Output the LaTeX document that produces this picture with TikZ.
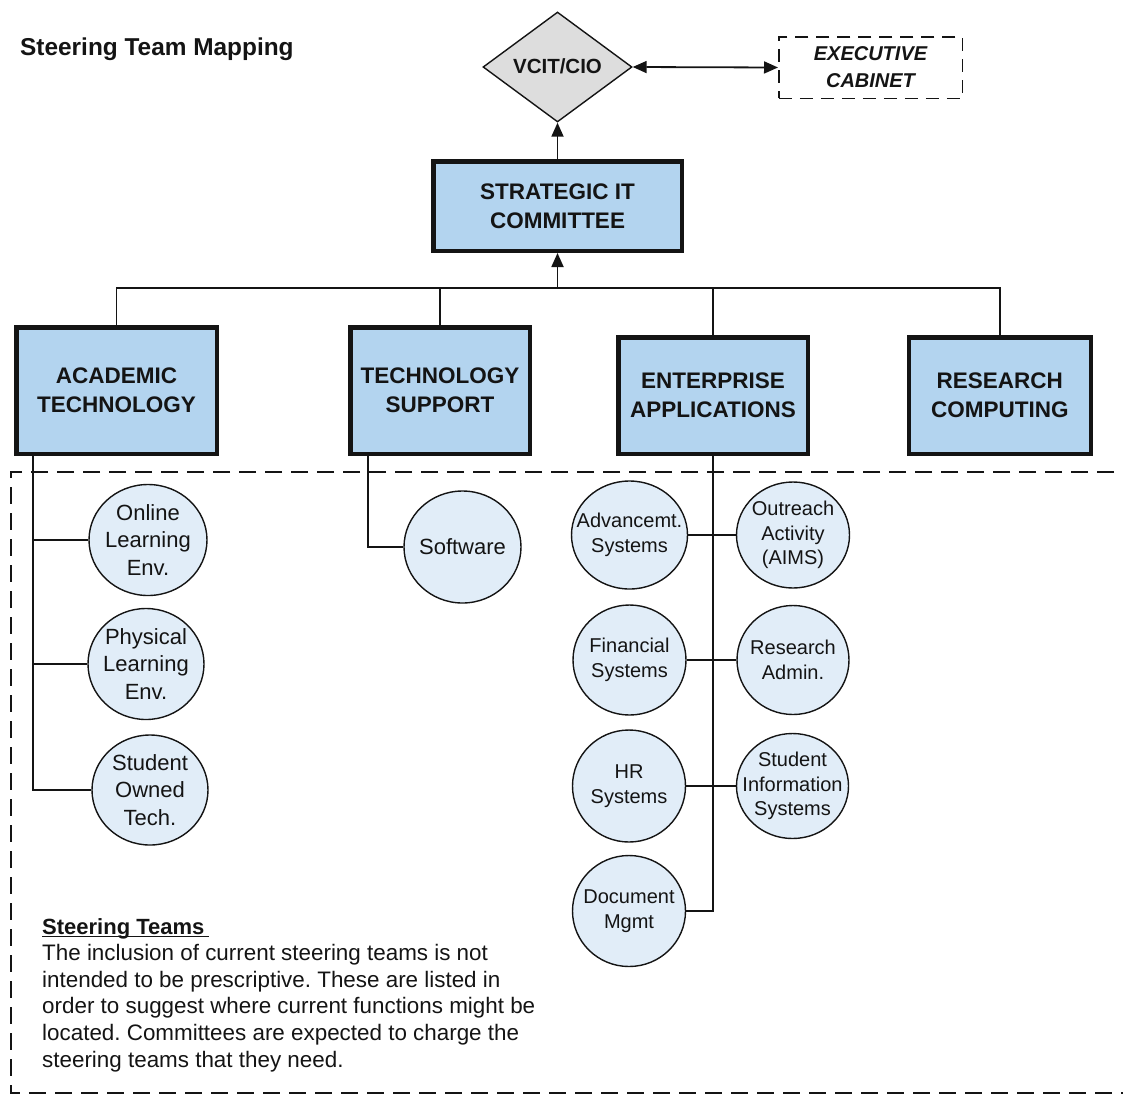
\documentclass[tikz,border=0pt]{standalone}
\usepackage{fontspec}
\setmainfont{Liberation Sans}
\usetikzlibrary{arrows.meta,shapes.geometric}
\definecolor{boxfill}{HTML}{B3D4EF}
\definecolor{bubfill}{HTML}{E1EDF8}
\definecolor{diafill}{HTML}{DDDDDD}
\definecolor{ink}{HTML}{141414}
\frenchspacing

\begin{document}
\begin{tikzpicture}[x=1pt,y=-1pt,
  conn/.style={draw=ink,line width=1.8pt},
  arr/.style={conn,-{Triangle[length=14pt,width=12pt]}},
  darr/.style={conn,{Triangle[length=14pt,width=12pt]}-{Triangle[length=14pt,width=12pt]}},
  unitbox/.style={rectangle,draw=ink,line width=4.5pt,fill=boxfill,inner sep=0pt,
    align=center,text=ink,font=\fontsize{22.5}{29}\selectfont\bfseries},
  bub/.style={ellipse,draw=ink,line width=1.4pt,fill=bubfill,inner sep=0pt,
    minimum width=113pt,minimum height=109pt},
  acbub/.style={bub,minimum width=118pt,minimum height=111pt},
  atxt/.style={align=center,text=ink,font=\fontsize{22}{27.5}\selectfont},
  etxt/.style={align=center,text=ink,font=\fontsize{20}{24.5}\selectfont},
  dashregion/.style={draw=ink,line width=1.5pt,dash pattern=on 17pt off 9pt},
]
\useasboundingbox (0,0) rectangle (1123,1095);

% title
\node[anchor=base west,inner sep=0pt,text=ink,font=\fontsize{24.4}{29}\selectfont\bfseries]
  (title) at (20,55) {Steering Team Mapping};

% top of the hierarchy
\node[diamond,draw=ink,line width=1.4pt,fill=diafill,minimum width=149pt,minimum height=110pt,
  inner sep=0pt,text=ink,font=\fontsize{20.5}{25}\selectfont\bfseries] (vcit) at (557.5,67) {\raisebox{2pt}{VCIT/CIO}};
\node[rectangle,draw=ink,line width=1.5pt,dash pattern=on 13pt off 8pt,minimum width=183.5pt,
  minimum height=61.5pt,inner sep=0pt,align=center,text=ink,
  font=\fontsize{20}{27}\selectfont\bfseries\itshape] (exec) at (870.5,67.5)
  {EXECUTIVE\\CABINET};
\node[unitbox,minimum width=248.5pt,minimum height=89.5pt] (strat) at (557.5,206) {STRATEGIC IT\\COMMITTEE};

% committees
\node[unitbox,minimum width=200.5pt,minimum height=126.5pt] (acad) at (116.5,390.5) {ACADEMIC\\TECHNOLOGY};
\node[unitbox,minimum width=179.5pt,minimum height=126.5pt] (ts) at (440,390.5) {TECHNOLOGY\\SUPPORT};
\node[unitbox,minimum width=189.5pt,minimum height=116.5pt] (ea) at (713,395.5) {ENTERPRISE\\APPLICATIONS};
\node[unitbox,minimum width=182pt,minimum height=116.5pt] (rc) at (999.75,395.5) {RESEARCH\\COMPUTING};

% steering-team area
\draw[dashregion] (1140,472) -| (11,1093) -- (1140,1093);

% steering teams
\node[acbub,label={[atxt]center:{Online\\Learning\\Env.}}] (ole) at (148,540) {};
\node[acbub,minimum width=116pt,label={[atxt]center:{Physical\\Learning\\Env.}}] (ple) at (146,664) {};
\node[acbub,minimum width=116pt,minimum height=110pt,label={[atxt]center:{Student\\Owned\\Tech.}}] (sot) at (150,790) {};
\node[acbub,minimum width=117pt,minimum height=112pt,label={[atxt]center:{Software}}] (sw) at (462.5,547) {};

\node[bub,minimum width=116pt,minimum height=108pt,label={[etxt]center:{Advancemt.\\Systems}}] (adv) at (629.5,535) {};
\node[bub,minimum height=106pt,label={[etxt]center:{Outreach\\Activity\\(AIMS)}}] (out) at (793,535) {};
\node[bub,minimum height=110pt,label={[etxt]center:{Financial\\Systems}}] (fin) at (629.5,660) {};
\node[bub,minimum width=112pt,label={[etxt]center:{Research\\Admin.}}] (ra) at (793,660) {};
\node[bub,minimum height=112pt,label={[etxt]center:{HR\\Systems}}] (hr) at (629,786) {};
\node[bub,minimum width=112pt,minimum height=105pt,label={[etxt]center:{Student\\Information\\Systems}}] (sis) at (792.5,786) {};
\node[bub,minimum height=111pt,label={[etxt]center:{Document\\Mgmt}}] (doc) at (629,911) {};

% connectors
\coordinate (bus) at (557.5,288);
\coordinate (atrunk) at (33,0);
\coordinate (strunk) at (368,0);
\draw[conn] (acad.north) -- (acad.north |- bus) -- (rc.north |- bus) -- (rc.north);
\draw[conn] (ts.north) -- (ts.north |- bus);
\draw[conn] (ea.north) -- (ea.north |- bus);
\draw[arr] (bus) -- (strat.south);
\draw[arr] (strat.north) -- (vcit.south);
\draw[darr] (vcit.east) -- (exec.west);

\draw[conn] (acad.south -| atrunk) |- (sot.west);
\draw[conn] (ole.west -| atrunk) -- (ole.west);
\draw[conn] (ple.west -| atrunk) -- (ple.west);
\draw[conn] (ts.south -| strunk) |- (sw.west);
\draw[conn] (ea.south) |- (doc.east);
\draw[conn] (adv.east) -- (out.west);
\draw[conn] (fin.east) -- (ra.west);
\draw[conn] (hr.east) -- (sis.west);

% note
\node[anchor=base west,inner sep=0pt,text=ink,font=\fontsize{22}{27}\selectfont\bfseries]
  (sthead) at (42,934) {Steering Teams};
\draw[draw=ink,line width=1.6pt] ([yshift=-2.5pt]sthead.base west) -- ([xshift=4pt,yshift=-2.5pt]sthead.base east);
\node[anchor=north west,inner sep=0pt,align=left,text=ink,font=\fontsize{22.4}{26.7}\selectfont]
  (stbody) at (42,944) {The inclusion of current steering teams is not\\
  intended to be prescriptive. These are listed in\\
  order to suggest where current functions might be\\
  located. Committees are expected to charge the\\
  steering teams that they need.};
\end{tikzpicture}
\end{document}
